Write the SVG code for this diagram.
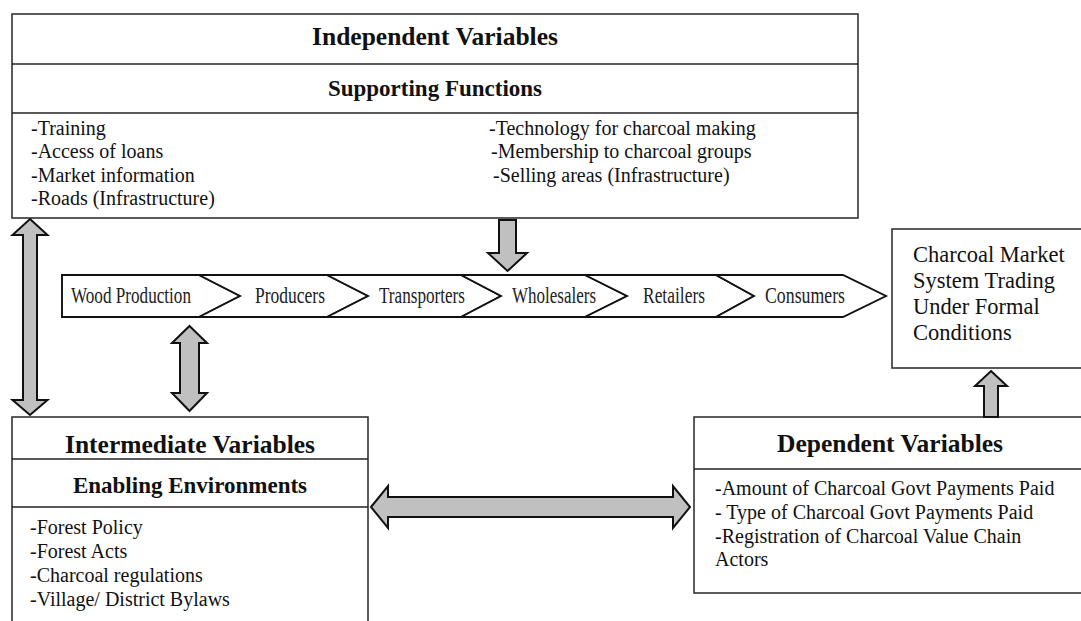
<svg xmlns="http://www.w3.org/2000/svg" width="1081" height="621" viewBox="0 0 1081 621">
<style>
.box{fill:#fff;stroke:#333;stroke-width:1.6}
.div{stroke:#222;stroke-width:1.6}
.h1{font-family:"Liberation Serif","Times New Roman",serif;font-weight:bold;font-size:25.5px;fill:#111;text-anchor:middle}
.h2{font-family:"Liberation Serif","Times New Roman",serif;font-weight:bold;font-size:23px;fill:#111;text-anchor:middle}
.t{font-family:"Liberation Serif","Times New Roman",serif;font-size:20px;fill:#111}
.c{font-family:"Liberation Serif","Times New Roman",serif;font-size:22.5px;fill:#111}
.ch{fill:#fff;stroke:#111;stroke-width:1.9;stroke-linejoin:miter}
.ct{font-family:"Liberation Serif","Times New Roman",serif;font-size:22.5px;fill:#222}
.arr{fill:#c0c0c0;stroke:#111;stroke-width:2;stroke-linejoin:miter}
</style>
<rect width="1081" height="621" fill="#fff"/>

<g id="independent">
<rect class="box" x="12" y="14" width="846" height="204"/>
<line class="div" x1="12" y1="64" x2="858" y2="64"/>
<line class="div" x1="12" y1="113" x2="858" y2="113"/>
<text class="h1" x="435" y="45">Independent Variables</text>
<text class="h2" x="435" y="96">Supporting Functions</text>
<text class="t" x="31" y="135">-Training</text>
<text class="t" x="31" y="158">-Access of loans</text>
<text class="t" x="31" y="182">-Market information</text>
<text class="t" x="31" y="205">-Roads (Infrastructure)</text>
<text class="t" x="489" y="135">-Technology for charcoal making</text>
<text class="t" x="491" y="158">-Membership to charcoal groups</text>
<text class="t" x="493" y="182">-Selling areas (Infrastructure)</text>
</g>

<g id="chain">
<polygon class="ch" points="62,275 199,275 240,296 199,317 62,317"/>
<polygon class="ch" points="199,275 327,275 368,296 327,317 199,317 240,296"/>
<polygon class="ch" points="327,275 461,275 501,296 461,317 327,317 368,296"/>
<polygon class="ch" points="461,275 585,275 627,296 585,317 461,317 501,296"/>
<polygon class="ch" points="585,275 716,275 754,296 716,317 585,317 627,296"/>
<polygon class="ch" points="716,275 843,275 886,296 843,317 716,317 754,296"/>
<text class="ct" x="71" y="303" textLength="120" lengthAdjust="spacingAndGlyphs">Wood Production</text>
<text class="ct" x="255" y="303" textLength="70" lengthAdjust="spacingAndGlyphs">Producers</text>
<text class="ct" x="379" y="303" textLength="86" lengthAdjust="spacingAndGlyphs">Transporters</text>
<text class="ct" x="512" y="303" textLength="84" lengthAdjust="spacingAndGlyphs">Wholesalers</text>
<text class="ct" x="643" y="303" textLength="62" lengthAdjust="spacingAndGlyphs">Retailers</text>
<text class="ct" x="765" y="303" textLength="80" lengthAdjust="spacingAndGlyphs">Consumers</text>
</g>

<g id="outcome">
<rect class="box" x="892" y="229" width="195" height="139"/>
<text class="c" x="913" y="262">Charcoal Market</text>
<text class="c" x="913" y="288">System Trading</text>
<text class="c" x="913" y="314">Under Formal</text>
<text class="c" x="913" y="340">Conditions</text>
</g>

<g id="intermediate">
<rect class="box" x="12" y="417" width="356" height="215"/>
<line class="div" x1="12" y1="459" x2="368" y2="459"/>
<line class="div" x1="12" y1="507" x2="368" y2="507"/>
<text class="h1" x="190" y="453">Intermediate Variables</text>
<text class="h2" x="190" y="493">Enabling Environments</text>
<text class="t" x="30" y="534">-Forest Policy</text>
<text class="t" x="30" y="558">-Forest Acts</text>
<text class="t" x="30" y="582">-Charcoal regulations</text>
<text class="t" x="30" y="606">-Village/ District Bylaws</text>
</g>

<g id="dependent">
<rect class="box" x="694" y="417" width="395" height="176"/>
<line class="div" x1="694" y1="469" x2="1081" y2="469"/>
<text class="h1" x="890" y="452">Dependent Variables</text>
<text class="t" x="715" y="495">-Amount of Charcoal Govt Payments Paid</text>
<text class="t" x="715" y="519">- Type of Charcoal Govt Payments Paid</text>
<text class="t" x="715" y="543">-Registration of Charcoal Value Chain</text>
<text class="t" x="715" y="566">Actors</text>
</g>

<g id="connectors">
<polygon class="arr" points="30,219 47.5,235 37,235 37,400 47.5,400 30,415 12.5,400 23,400 23,235 12.5,235"/>
<polygon class="arr" points="189.5,326 207,343 199,343 199,393 207,393 189.5,411 172,393 180,393 180,343 172,343"/>
<polygon class="arr" points="499,220 516,220 516,253 527,253 507.5,271 488,253 499,253"/>
<polygon class="arr" points="991,371 1007,386 998,386 998,417 984,417 984,386 975,386"/>
<polygon class="arr" points="371,507 388,486 388,497 673,497 673,486 690,507 673,528 673,517 388,517 388,528"/>
</g>
</svg>
